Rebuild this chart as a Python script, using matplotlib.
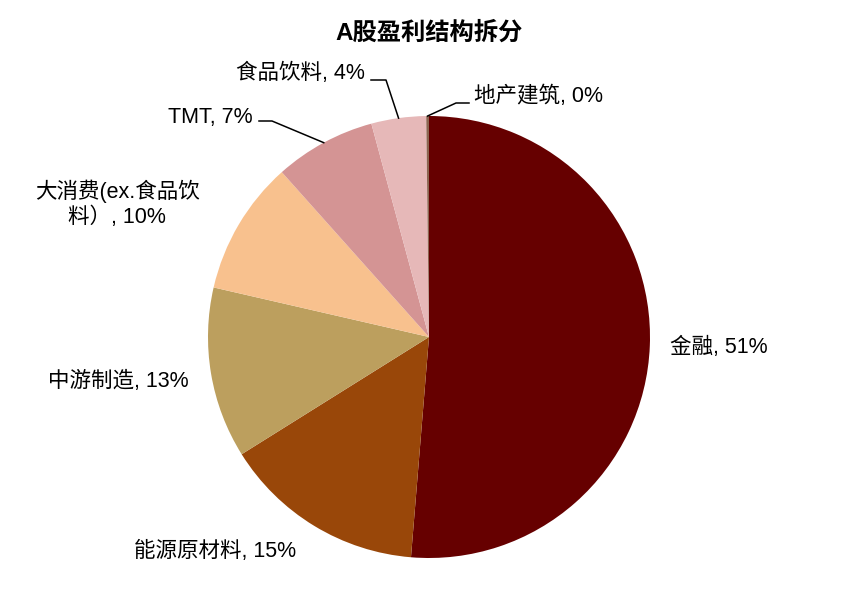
import numpy as np
import matplotlib.pyplot as plt

plt.rcParams['font.family'] = ['Liberation Sans', 'Noto Sans CJK SC', 'DejaVu Sans']

categories = ['金融', '能源原材料', '中游制造', '大消费(ex.食品饮\n料）', 'TMT', '食品饮料', '地产建筑']
shares = [51.3, 14.8, 12.5, 9.8, 7.4, 4.0, 0.2]
pct_text = ['51%', '15%', '13%', '10%', '7%', '4%', '0%']
colors = ['#660000', '#994709', '#BC9F5E', '#F8C18E', '#D49494', '#E6B8B8', '#8B6450']

W, H = 853, 591
fig = plt.figure(figsize=(W / 100, H / 100), dpi=100)
fig.patch.set_facecolor('white')

cx, cy, r = 429, 337, 221
ax = fig.add_axes([(cx - r) / W, 1 - (cy + r) / H, 2 * r / W, 2 * r / H])
wedges, _ = ax.pie(shares, colors=colors, startangle=90, counterclock=False,
                   radius=1, wedgeprops=dict(linewidth=0))
ax.set_xlim(-1, 1)
ax.set_ylim(-1, 1)
ax.set_aspect('equal')
ax.axis('off')

fig.text(cx / W, 1 - 33 / H, 'A股盈利结构拆分', ha='center', va='center',
         fontsize=17.5, fontweight='bold')


def fx(px):
    return px / W


def fy(py):
    return 1 - py / H


# label positions (pixels): x, y, ha
label_pos = [
    (670, 347, 'left'),
    (215, 551, 'center'),
    (118, 381, 'center'),
    (117, 204, 'center'),
    (210, 118, 'center'),
    (300, 73, 'center'),
    (539, 96, 'center'),
]
for i, (lab, pct) in enumerate(zip(categories, pct_text)):
    x, y, ha = label_pos[i]
    fig.text(fx(x), fy(y), f'{lab}, {pct}', ha=ha, va='center', fontsize=15.5,
             linespacing=1.25, multialignment='center')

# leader lines for the small top slices: (label anchor, elbow)
leaders = {4: [(259, 121), (272, 121)], 5: [(371, 80), (386, 80)], 6: [(469, 103), (456, 103)]}
for i, pts in leaders.items():
    w = wedges[i]
    mid = np.deg2rad((w.theta1 + w.theta2) / 2)
    ex, ey = ax.transData.transform((np.cos(mid), np.sin(mid)))
    xs = [fx(p[0]) for p in pts] + [ex / W]
    ys = [fy(p[1]) for p in pts] + [ey / H]
    fig.add_artist(plt.Line2D(xs, ys, color='black', lw=1.1, transform=fig.transFigure))

fig.savefig('out.png', dpi=100)
